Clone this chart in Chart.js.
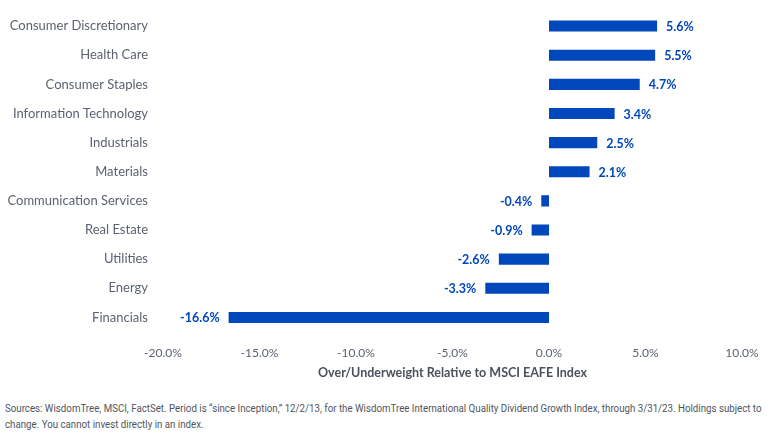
<!DOCTYPE html>
<html>
<head>
<meta charset="utf-8">
<script src="https://cdn.jsdelivr.net/npm/chart.js@4/dist/chart.umd.min.js"></script>
<style>
  html, body { margin: 0; padding: 0; background: #fff; }
  #wrap { position: relative; width: 768px; height: 440px; }
  #c { position: absolute; left: 0; top: 0; }
  #note { position: absolute; left: 5px; top: 401px; width: 840px; transform: scaleX(0.925); transform-origin: 0 0; white-space: nowrap; font-family: "Roboto", sans-serif; font-size: 10.5px; line-height: 16px; color: #4f5560; }
</style>
</head>
<body>
<div id="wrap">
  <canvas id="c" width="768" height="390"></canvas>
  <div id="note">Sources: WisdomTree, MSCI, FactSet. Period is “since Inception,” 12/2/13, for the WisdomTree International Quality Dividend Growth Index, through 3/31/23. Holdings subject to<br>change. You cannot invest directly in an index.</div>
</div>
<script>
const categories = ["Consumer Discretionary", "Health Care", "Consumer Staples", "Information Technology", "Industrials", "Materials", "Communication Services", "Real Estate", "Utilities", "Energy", "Financials"];
const weights = [5.6, 5.5, 4.7, 3.4, 2.5, 2.1, -0.4, -0.9, -2.6, -3.3, -16.6];
const xTicks = [-20, -15, -10, -5, 0, 5, 10];
const axisTitle = "Over/Underweight Relative to MSCI EAFE Index";

const BLUE = "#0047BB";
const GREY = "#5b6370";

const valueLabels = {
  id: "valueLabels",
  afterDatasetsDraw(chart) {
    const ctx = chart.ctx;
    const meta = chart.getDatasetMeta(0);
    ctx.save();
    ctx.font = "bold 12.5px Lato";
    ctx.fillStyle = BLUE;
    ctx.textBaseline = "middle";
    meta.data.forEach((bar, i) => {
      const v = weights[i];
      const txt = v.toFixed(1) + "%";
      if (v >= 0) { ctx.textAlign = "left"; ctx.fillText(txt, bar.x + 9, bar.y + 1); }
      else { ctx.textAlign = "right"; ctx.fillText(txt, bar.x - 9, bar.y + 1); }
    });
    ctx.restore();
  }
};

new Chart(document.getElementById("c"), {
  type: "bar",
  data: {
    labels: categories,
    datasets: [{ data: weights, backgroundColor: BLUE, barPercentage: 0.76, categoryPercentage: 0.5 }]
  },
  options: {
    indexAxis: "y",
    responsive: false,
    animation: false,
    layout: { padding: { top: 11.5, right: 26, left: 0, bottom: 0 } },
    plugins: { legend: { display: false }, tooltip: { enabled: false } },
    scales: {
      x: {
        min: -20, max: 10,
        afterBuildTicks(scale) { scale.ticks = xTicks.map(v => ({ value: v })); },
        afterFit(scale) { scale.height = 58; scale.paddingLeft = 0; scale.paddingRight = 0; },
        grid: { display: false, drawTicks: false },
        border: { display: false },
        ticks: { padding: 14, color: GREY, font: { family: "Lato", size: 12 }, callback: v => Number(v).toFixed(1) + "%" },
        title: { display: true, text: axisTitle, color: "#4a515c", font: { family: "Lato", size: 12.5, weight: "bold" }, padding: { top: 4, bottom: 10 } }
      },
      y: {
        afterFit(scale) { scale.width = 163; scale.paddingTop = 0; scale.paddingBottom = 0; },
        grid: { display: false, drawTicks: false },
        border: { display: false },
        ticks: { padding: 15, color: GREY, font: { family: "Lato", size: 13 } }
      }
    }
  },
  plugins: [valueLabels]
});
</script>
</body>
</html>
